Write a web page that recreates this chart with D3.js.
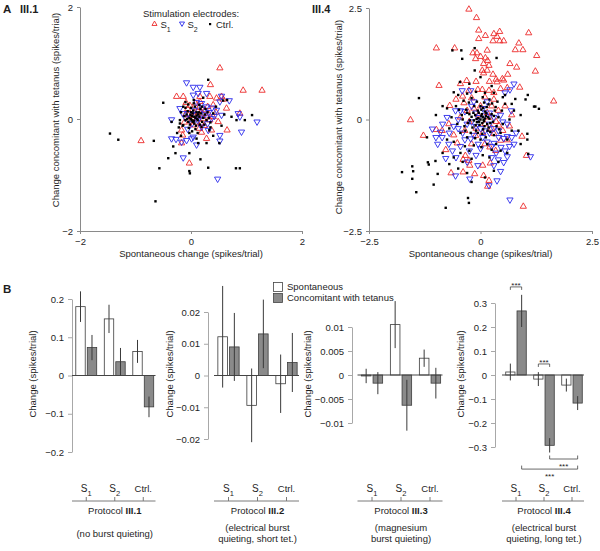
<!DOCTYPE html>
<html><head><meta charset="utf-8">
<script src="https://cdn.jsdelivr.net/npm/d3@7"></script>
<style>body{margin:0;background:#fff}svg{display:block;font-family:"Liberation Sans",Arial,Helvetica,sans-serif}</style>
</head><body><svg id="c" width="600" height="551"></svg>
<script>
// ---------------- DATA ----------------
// Panel A, protocol III.1 : [spontaneous change, change concomitant with tetanus]
const a1S1 = [[0.52,0.91],[0.94,0.51],[1.28,0.51],[0.35,0.61],[-0.26,0.40],[-0.14,0.40],[0.16,0.40],[0.34,0.40],[0.46,0.37],[0.55,0.40],[0.58,0.35],[0.16,0.31],[0.31,0.10],[0.64,0.19],[0.49,-0.05],[0.88,0.10],[0.65,-0.20],[0.37,-0.20],[0.28,-0.35],[0.19,-0.24],[-0.17,-0.43],[-0.03,-0.79],[-0.90,-0.39],[-0.09,0.29],[-0.05,0.07],[0.25,0.16],[0.40,0.04],[0.04,-0.11],[-0.17,-0.20],[-0.15,-0.29],[0.15,-0.17],[0.05,0.12],[0.12,0.05],[0.20,0.10],[0.22,0.0],[-0.06,0.18],[0.0,-0.04],[0.10,-0.06],[0.28,0.05],[0.34,-0.02],[0.14,0.20],[-0.10,0.08],[0.08,0.28],[0.45,0.12],[0.02,0.02],[0.18,-0.08],[0.30,0.22],[-0.12,-0.06],[0.24,-0.12],[0.06,0.06],[0.40,0.25],[-0.02,0.24],[0.12,0.14]];
const a1S2 = [[-0.08,0.65],[0.04,0.57],[0.16,0.57],[0.28,0.46],[0.04,0.43],[0.13,0.46],[0.55,0.41],[0.52,0.31],[0.69,0.33],[0.28,0.22],[0.46,0.16],[0.55,0.07],[0.85,0.10],[0.88,0.04],[1.19,-0.05],[0.91,-0.23],[0.52,-0.29],[0.52,-0.39],[0.31,-0.20],[0.19,-0.14],[0.04,-0.32],[0.10,-0.46],[0.01,-0.35],[-0.08,-0.38],[-0.17,-0.41],[-0.27,-0.36],[-0.35,-0.35],[-0.35,-0.01],[-0.14,-0.69],[0.48,-1.07],[-0.20,0.19],[0.19,0.28],[0.37,0.01],[0.08,0.08],[0.15,0.02],[-0.04,0.10],[0.25,0.08],[0.32,0.12],[0.02,-0.08],[0.12,-0.02],[-0.10,0.02],[0.20,0.18],[0.42,0.05],[0.06,0.16],[-0.15,0.10],[0.30,-0.08],[0.10,0.30],[-0.06,-0.18],[0.38,0.20]];
const a1Ctrl = [[-1.46,-0.26],[-1.31,-0.37],[-0.67,-0.39],[-0.50,0.29],[-0.64,-1.47],[-0.41,-0.70],[-0.57,-0.88],[-0.28,-0.61],[-0.03,-0.93],[-0.02,-0.97],[0.17,-0.72],[0.31,-0.87],[0.81,-0.88],[0.88,-0.88],[1.10,0.07],[0.97,-0.02],[0.82,-0.02],[0.73,0.04],[0.31,0.70],[0.58,0.33],[0.65,0.34],[-0.32,-0.49],[0.13,-0.43],[0.28,-0.43],[0.51,-0.43],[-0.03,-0.61],[-0.20,-0.08],[-0.14,-0.11],[0.05,0.34],[-0.10,0.30],[0.45,0.22],[0.60,0.08],[0.40,-0.30],[-0.25,-0.25],[-0.35,-0.05],[0.22,0.38],[0.10,-0.35],[-0.18,-0.30],[0.35,-0.15],[0.55,-0.12],[0.0,0.0],[0.02,0.05],[-0.03,0.02],[0.05,-0.03],[0.08,0.02],[0.1,0.06],[-0.05,-0.05],[0.12,-0.02],[0.03,0.1],[-0.08,0.08],[0.15,0.04],[0.06,-0.08],[-0.02,-0.1],[0.18,0.1],[0.2,-0.05],[-0.1,-0.02],[0.04,0.15],[0.09,-0.12],[0.14,0.12],[-0.06,0.14],[0.22,0.02],[0.25,0.08],[-0.12,0.05],[0.0,0.2],[0.16,-0.1],[0.28,-0.02],[-0.04,-0.16],[0.07,0.22],[0.11,0.0],[0.01,-0.02],[-0.01,0.07],[0.06,0.04],[0.13,0.08],[0.03,-0.05],[-0.07,0.0],[0.19,-0.14],[0.3,0.12],[0.24,-0.1],[-0.15,-0.12],[0.08,-0.18],[-0.18,0.12],[0.32,0.02],[0.17,0.18],[-0.1,0.2],[0.35,-0.06],[0.05,0.28],[-0.2,-0.02],[0.26,0.18],[0.12,-0.25],[-0.05,0.26],[0.4,0.1],[0.15,0.25],[-0.22,-0.15],[0.02,-0.22],[0.1,0.12],[-0.03,-0.25],[0.2,0.22],[0.33,-0.2],[-0.14,0.22],[0.0,0.12]];

// Panel A, protocol III.4
const a4S1 = [[-0.26,2.47],[-0.09,2.28],[-0.04,2.00],[0.11,1.88],[-0.04,1.81],[0.30,1.92],[0.43,1.97],[0.37,1.86],[0.28,1.76],[0.43,1.76],[0.52,1.76],[1.08,1.94],[0.86,1.71],[0.78,1.56],[0.95,1.56],[-0.99,1.60],[-0.58,1.60],[-0.17,1.49],[-0.08,1.49],[0.15,1.55],[-0.11,1.36],[0.00,1.41],[0.11,1.38],[0.16,1.32],[0.19,1.21],[0.07,1.25],[0.04,1.10],[0.07,1.04],[0.28,1.01],[0.15,1.10],[1.26,1.43],[1.23,1.08],[0.66,1.25],[0.81,1.17],[0.61,1.01],[0.49,0.91],[0.52,0.88],[0.37,0.84],[-0.31,0.87],[-0.93,0.76],[0.88,0.72],[1.64,0.41],[-0.45,0.80],[0.04,0.67],[0.19,0.65],[0.45,0.69],[0.60,0.71],[-0.06,0.67],[-0.26,0.65],[-1.57,-0.01],[-1.28,-0.36],[-0.99,-0.23],[-0.78,-0.68],[-0.69,0.31],[-0.37,0.37],[0.93,-0.38],[1.03,-0.81],[0.96,-1.95],[-0.66,-1.20],[-0.39,-1.18],[-0.24,-1.03],[-0.39,-0.90],[-0.34,-0.81],[0.05,-1.03],[-0.13,-1.22],[0.07,-1.26],[0.19,-1.37],[0.16,-1.50],[0.22,-0.98],[0.21,-0.62],[0.34,-0.70],[0.45,-0.47],[0.60,-0.46],[0.30,-0.32],[0.41,-0.13],[-0.86,-0.25],[-0.71,-0.10],[-0.52,-0.53],[-0.26,-0.92],[-0.11,-0.36],[-0.40,0.52],[-0.20,0.48],[0.10,0.50],[0.30,0.45],[0.25,0.30],[-0.30,0.20],[-0.15,0.25],[0.40,0.20],[0.55,0.30],[0.20,0.05],[-0.05,0.10],[0.10,-0.10],[-0.25,-0.05],[-0.45,0.05],[0.35,-0.05],[0.15,0.15],[-0.10,-0.20],[0.05,-0.30],[-0.35,-0.25],[0.25,-0.20],[-0.60,-0.35],[0.50,-0.25],[0.00,0.30],[0.30,0.60],[-0.55,0.45],[0.70,0.10],[0.65,-0.15],[-0.20,-0.55],[0.10,-0.55],[0.35,0.90],[0.20,0.85],[-0.10,0.85]];
const a4S2 = [[-1.08,-0.21],[-0.90,-0.28],[-0.86,-0.40],[-0.96,-0.55],[-0.71,-0.55],[-0.63,-0.70],[-0.78,-0.87],[-0.56,-1.26],[-0.24,-1.33],[-0.06,-1.03],[0.19,-1.48],[0.37,-1.37],[0.45,-1.16],[0.30,-1.03],[0.52,-0.96],[0.60,-0.83],[1.12,-0.83],[0.66,-1.80],[0.30,-0.53],[0.41,-0.40],[0.60,-0.38],[-0.56,0.20],[-0.45,0.20],[-0.35,0.18],[-0.22,-0.43],[0.75,0.80],[0.66,0.67],[0.55,0.60],[-0.41,0.65],[-0.22,0.65],[0.69,0.20],[0.52,-0.42],[0.70,-0.40],[0.75,-0.55],[0.46,-0.62],[0.55,-0.70],[-0.30,-0.10],[-0.20,-0.05],[-0.10,-0.15],[0.00,-0.20],[0.10,-0.25],[0.20,-0.30],[0.30,-0.20],[0.40,-0.25],[-0.40,-0.30],[-0.50,-0.20],[-0.60,-0.15],[-0.35,-0.45],[-0.15,-0.35],[0.05,-0.40],[0.15,-0.50],[0.25,-0.60],[-0.05,-0.55],[-0.25,-0.70],[0.35,-0.75],[-0.45,-0.60],[0.10,0.10],[0.20,0.15],[-0.05,0.05],[0.30,0.05],[-0.20,0.30],[0.05,0.25],[0.45,0.10],[-0.50,0.00],[-0.70,-0.30],[-0.85,-0.10],[0.60,-0.10],[0.50,-0.05],[-0.15,0.40],[0.15,0.40],[0.25,-0.85],[-0.10,-0.80],[-0.30,-0.95],[0.40,-0.90],[0.65,-0.60],[-0.55,-0.85],[0.00,-0.65],[0.80,-0.30],[-1.00,-0.40],[-0.75,0.05],[0.20,-0.10],[-0.10,0.15]];
const a4Ctrl = [[-1.76,-1.18],[-1.53,-1.05],[-1.51,-1.16],[-1.53,-1.33],[-1.44,-1.63],[-1.05,-1.46],[-1.16,-1.01],[-1.18,-0.96],[-0.78,-1.98],[-0.28,-1.76],[-0.26,-1.87],[-0.96,-1.22],[-1.01,-0.93],[1.23,0.29],[1.31,0.24],[1.05,-0.32],[1.05,-0.45],[1.07,-0.77],[-0.63,1.55],[-0.43,1.55],[-0.13,1.60],[-0.41,1.36],[-0.13,1.10],[0.36,1.38],[-1.38,0.48],[-0.60,0.61],[-0.46,0.84],[1.01,0.45],[1.06,0.55],[1.20,0.29],[0.78,0.46],[-1.20,-0.40],[-0.85,-0.75],[-0.70,-1.00],[-0.50,-1.10],[-0.30,-1.20],[0.10,-1.30],[0.30,-1.15],[-0.20,-1.40],[0.90,-0.55],[0.85,-0.25],[0.90,0.10],[0.70,0.35],[-0.85,0.30],[-1.00,0.10],[-0.75,-0.45],[0.55,0.55],[0.25,0.75],[-0.25,0.80],[0.00,0.95],[0.00,0.00],[0.05,0.05],[-0.05,0.03],[0.08,-0.04],[-0.08,-0.06],[0.12,0.08],[-0.12,0.10],[0.03,0.12],[-0.02,-0.12],[0.15,-0.10],[-0.15,-0.02],[0.10,0.18],[-0.06,0.20],[0.20,0.02],[-0.20,0.06],[0.02,0.22],[0.18,-0.18],[-0.18,-0.18],[0.25,0.12],[-0.25,0.12],[0.06,-0.22],[-0.10,-0.25],[0.28,-0.05],[-0.28,-0.08],[0.00,0.30],[0.14,0.28],[-0.14,0.30],[0.32,0.20],[-0.32,0.22],[0.22,-0.28],[-0.22,-0.30],[0.04,-0.32],[0.36,-0.15],[-0.36,-0.15],[0.40,0.05],[-0.40,0.00],[0.08,0.38],[-0.08,0.40],[0.26,0.36],[-0.26,0.38],[0.12,-0.40],[-0.12,-0.42],[0.30,-0.35],[-0.30,-0.40],[0.45,-0.30],[-0.45,-0.30],[0.48,0.20],[-0.48,0.22],[0.00,-0.45],[0.20,0.45],[-0.20,0.48],[0.38,0.40],[-0.38,0.42],[0.50,-0.10],[-0.52,-0.10],[0.15,-0.55],[-0.15,-0.58],[0.35,-0.55],[-0.35,-0.60],[0.55,0.35],[-0.55,0.30],[0.05,0.50],[0.60,-0.45],[-0.60,-0.50],[0.02,-0.62],[0.25,-0.68],[-0.25,-0.70],[0.45,-0.70],[-0.45,-0.75],[0.65,0.00],[-0.65,0.05],[0.10,0.60],[-0.10,0.62],[0.30,0.60],[-0.30,0.58],[0.70,-0.25],[-0.70,-0.20],[0.05,-0.80],[0.20,-0.85],[-0.20,-0.88],[0.50,0.50],[-0.50,0.55],[0.75,0.20],[-0.75,0.25],[0.60,-0.75],[-0.60,-0.85],[0.40,-0.95],[-0.40,-0.95],[0.02,0.08],[0.07,-0.01],[-0.03,-0.05],[0.10,0.02],[-0.09,0.01],[0.04,-0.08],[0.13,0.14],[-0.04,0.15],[0.17,0.05],[-0.16,0.15],[0.09,-0.15],[-0.11,-0.13],[0.22,-0.08],[-0.24,-0.02],[0.06,0.26],[0.30,0.08],[-0.30,0.15],[0.16,-0.25],[-0.06,-0.30],[0.34,0.28],[-0.34,-0.25],[0.42,-0.22],[-0.42,0.10],[0.18,0.34]];

const a1Ticks = [-2, 0, 2];
const a1TickLabels = ['\u22122', '0', '2'];
const a4Ticks = [-2.5, 0, 2.5];
const a4TickLabels = ['\u22122.5', '0', '2.5'];

// Panel B : categories and values (spikes/trial)
const CATS = ['S1', 'S2', 'Ctrl.'];
const SERIES = ['Spontaneous', 'Concomitant with tetanus'];
const b1Spont = [0.18, 0.148, 0.063],   b1SpontErr = [0.04, 0.037, 0.03];
const b1Conc  = [0.073, 0.036, -0.082], b1ConcErr  = [0.033, 0.036, 0.027];
const b2Spont = [0.0122, -0.0094, -0.0026], b2SpontErr = [0.016, 0.0116, 0.0092];
const b2Conc  = [0.009, 0.0131, 0.0041],    b2ConcErr  = [0.0107, 0.0108, 0.0093];
const b3Spont = [-0.0002, 0.0105, 0.0035],  b3SpontErr = [0.0015, 0.0049, 0.0018];
const b3Conc  = [-0.0017, -0.0063, -0.0017], b3ConcErr = [0.0023, 0.0053, 0.0032];
const b4Spont = [0.0125, -0.017, -0.042], b4SpontErr = [0.035, 0.029, 0.027];
const b4Conc  = [0.267, -0.293, -0.117],  b4ConcErr  = [0.067, 0.03, 0.029];

const b1Ticks = [0.2, 0.1, 0, -0.1, -0.2];
const b1TickLabels = ['0.2', '0.1', '0', '\u22120.1', '\u22120.2'];
const b2Ticks = [0.02, 0.01, 0, -0.01, -0.02];
const b2TickLabels = ['0.02', '0.01', '0', '\u22120.01', '\u22120.02'];
const b3Ticks = [0.01, 0.005, 0, -0.005, -0.01];
const b3TickLabels = ['0.01', '0.005', '0', '\u22120.005', '\u22120.01'];
const b4Ticks = [0.3, 0.2, 0.1, 0, -0.1, -0.2, -0.3];
const b4TickLabels = ['0.3', '0.2', '0.1', '0', '\u22120.1', '\u22120.2', '\u22120.3'];

// significance brackets in III.4: [cat, series] -> [cat, series] at value level
const b4Sig = [
  {from: ['S1', 0], to: ['S1', 1], level: 0.367, side: 'top'},
  {from: ['S2', 0], to: ['S2', 1], level: 0.046, side: 'top'},
  {from: ['S2', 1], to: ['Ctrl.', 1], level: -0.35, side: 'bottom'},
  {from: ['S1', 1], to: ['Ctrl.', 1], level: -0.392, side: 'bottom'}
];

// ---------------- DRAW ----------------
const svg = d3.select('#c');
const FS = 9.5, TXT = '#1e1e1e';
const RED = '#ec2a2a', BLUE = '#2a2aec';
const AX = '#8a8a8a';

function styleAxis(sel, col) {
  sel.attr('font-family', null).attr('font-size', null);
  sel.select('.domain').attr('stroke', col).attr('stroke-width', 1);
  sel.selectAll('.tick line').attr('stroke', col);
  sel.selectAll('.tick text').attr('fill', TXT).style('font-size', FS + 'px')
     .style('font-family', '"Liberation Sans",Arial,sans-serif');
}

function txt(x, y, s, opts = {}) {
  const t = svg.append('text').attr('x', x).attr('y', y).attr('fill', TXT)
    .style('font-size', (opts.size || FS) + 'px')
    .attr('text-anchor', opts.anchor || 'start');
  if (opts.bold) t.attr('font-weight', 'bold');
  if (opts.rot) t.attr('transform', `rotate(-90,${x},${y})`);
  t.text(s);
  return t;
}

const upSym = d3.symbol().type(d3.symbolTriangle).size(17);

function scatter(cfg) {
  const x = d3.scaleLinear().domain(cfg.dom).range(cfg.xr);
  const y = d3.scaleLinear().domain(cfg.dom).range(cfg.yr);
  const g = svg.append('g');
  const gx = g.append('g').attr('transform', `translate(0,${cfg.yr[0]})`)
    .call(d3.axisBottom(x).tickValues(cfg.ticks).tickFormat((d, i) => cfg.labels[i]).tickSize(3).tickPadding(4).tickSizeOuter(0));
  styleAxis(gx, AX);
  const gy = g.append('g').attr('transform', `translate(${cfg.xr[0]},0)`)
    .call(d3.axisLeft(y).tickValues(cfg.ticks).tickFormat((d, i) => cfg.labels[i]).tickSize(3).tickPadding(4).tickSizeOuter(0));
  styleAxis(gy, AX);

  g.append('g').selectAll('path').data(cfg.s1).join('path')
    .attr('d', upSym).attr('transform', d => `translate(${x(d[0])},${y(d[1])})`)
    .attr('fill', 'none').attr('stroke', RED).attr('stroke-width', 0.9);
  g.append('g').selectAll('path').data(cfg.s2).join('path')
    .attr('d', upSym).attr('transform', d => `translate(${x(d[0])},${y(d[1])}) rotate(180)`)
    .attr('fill', 'none').attr('stroke', BLUE).attr('stroke-width', 0.9);
  g.append('g').selectAll('rect').data(cfg.ctrl).join('rect')
    .attr('x', d => x(d[0]) - 1.2).attr('y', d => y(d[1]) - 1.2)
    .attr('width', 2.4).attr('height', 2.4).attr('fill', '#000');

  txt(cfg.titleX, cfg.titleY, 'Change concomitant with tetanus (spikes/trial)', {anchor: 'middle', rot: true});
  txt((cfg.xr[0] + cfg.xr[1]) / 2, 257, 'Spontaneous change (spikes/trial)', {anchor: 'middle'});
}

scatter({dom: [-2, 2], xr: [80, 302], yr: [231, 7], ticks: a1Ticks, labels: a1TickLabels,
  s1: a1S1, s2: a1S2, ctrl: a1Ctrl, titleX: 59, titleY: 110});
scatter({dom: [-2.5, 2.5], xr: [369, 592], yr: [231, 8], ticks: a4Ticks, labels: a4TickLabels,
  s1: a4S1, s2: a4S2, ctrl: a4Ctrl, titleX: 342, titleY: 117});

// panel labels
txt(3, 13, 'A', {bold: true, size: 11.5});
txt(20, 13, 'III.1', {bold: true, size: 11});
txt(312, 13, 'III.4', {bold: true, size: 11});
txt(3, 293, 'B', {bold: true, size: 11.5});

// legend A
txt(143, 17, 'Stimulation electrodes:');
const legSym = d3.symbol().type(d3.symbolTriangle).size(11);
svg.append('path').attr('d', legSym).attr('transform', 'translate(154.5,24)').attr('fill', 'none').attr('stroke', RED).attr('stroke-width', 0.9);
svg.append('path').attr('d', legSym).attr('transform', 'translate(182,23.5) rotate(180)').attr('fill', 'none').attr('stroke', BLUE).attr('stroke-width', 0.9);
svg.append('rect').attr('x', 209).attr('y', 23).attr('width', 2.2).attr('height', 2.2).attr('fill', '#000');
function subLabel(x, y, main, sub, anchor, size, subSize) {
  const t = svg.append('text').attr('x', x).attr('y', y).attr('fill', TXT)
    .style('font-size', size + 'px').attr('text-anchor', anchor);
  t.append('tspan').text(main);
  if (sub) t.append('tspan').attr('dy', 3.5).style('font-size', subSize + 'px').text(sub);
  return t;
}
subLabel(160.5, 28, 'S', '1', 'start', 9.5, 7);
subLabel(187.5, 28, 'S', '2', 'start', 9.5, 7);
txt(216, 28, 'Ctrl.');

// legend B
svg.append('rect').attr('x', 273.5).attr('y', 282.5).attr('width', 9).attr('height', 9).attr('fill', '#fff').attr('stroke', '#444').attr('stroke-width', 0.8);
svg.append('rect').attr('x', 273.5).attr('y', 293.5).attr('width', 9).attr('height', 9).attr('fill', '#8a8a8a').attr('stroke', '#444').attr('stroke-width', 0.8);
txt(287, 290, SERIES[0]);
txt(287, 301, SERIES[1]);

function bars(cfg) {
  const y = d3.scaleLinear().domain(cfg.dom).range(cfg.yr);
  const xg = d3.scaleBand().domain(CATS).range(cfg.xr);
  const xs = d3.scaleBand().domain([0, 1]).range([0, xg.bandwidth()]).paddingInner(0.18).paddingOuter(0.33);
  const g = svg.append('g');
  const gy = g.append('g').attr('transform', `translate(${cfg.axisX},0)`)
    .call(d3.axisLeft(y).tickValues(cfg.ticks).tickFormat((d, i) => cfg.labels[i]).tickSize(4).tickPadding(4).tickSizeOuter(0));
  styleAxis(gy, '#a8a8a8');

  const vals = [cfg.spont, cfg.conc], errs = [cfg.spontErr, cfg.concErr];
  const rows = [];
  CATS.forEach((c, ci) => [0, 1].forEach(s => rows.push({c, s, v: vals[s][ci], e: errs[s][ci]})));
  const cx = d => xg(d.c) + xs(d.s) + xs.bandwidth() / 2;

  g.append('g').selectAll('rect').data(rows).join('rect')
    .attr('x', d => xg(d.c) + xs(d.s)).attr('width', xs.bandwidth())
    .attr('y', d => Math.min(y(d.v), y(0))).attr('height', d => Math.abs(y(d.v) - y(0)))
    .attr('fill', d => d.s ? '#8a8a8a' : '#fff').attr('stroke', '#3c3c3c').attr('stroke-width', 0.8);
  g.append('line').attr('x1', cfg.xr[0]).attr('x2', cfg.xr[1] - 2).attr('y1', y(0)).attr('y2', y(0))
    .attr('stroke', '#444').attr('stroke-width', 1);
  g.append('g').selectAll('line').data(rows).join('line')
    .attr('x1', cx).attr('x2', cx).attr('y1', d => y(d.v + d.e)).attr('y2', d => y(d.v - d.e))
    .attr('stroke', '#3a3a3a').attr('stroke-width', 1);

  // category axis
  const gc = g.append('g').attr('transform', 'translate(0,501)')
    .call(d3.axisTop(xg).tickFormat('').tickSize(4).tickSizeOuter(0));
  gc.select('.domain').attr('stroke', '#7a7a7a').attr('d', `M${cfg.xr[0]},0H${cfg.xr[1] - 2}`);
  gc.selectAll('.tick line').attr('stroke', '#7a7a7a');
  CATS.forEach(c => {
    const xc = xg(c) + xg.bandwidth() / 2;
    if (c.startsWith('S')) subLabel(xc, 492, 'S', c.slice(1), 'middle', 10, 7.5);
    else txt(xc, 492, c, {anchor: 'middle', size: 9.5});
  });
  const mid = xg('S2') + xg.bandwidth() / 2;
  const pt = svg.append('text').attr('x', mid).attr('y', 514).attr('text-anchor', 'middle').attr('fill', TXT).style('font-size', FS + 'px');
  pt.append('tspan').text('Protocol ');
  pt.append('tspan').attr('font-weight', 'bold').text(cfg.protocol);
  if (cfg.sub.length === 1) txt(mid, 537, cfg.sub[0], {anchor: 'middle'});
  else { txt(mid, 531, cfg.sub[0], {anchor: 'middle'}); txt(mid, 542, cfg.sub[1], {anchor: 'middle'}); }

  txt(cfg.titleX, 374, 'Change (spikes/trial)', {anchor: 'middle', rot: true});

  if (cfg.sig) {
    const bx = ([c, s]) => xg(c) + xs(s) + xs.bandwidth() / 2;
    cfg.sig.forEach(b => {
      const x1 = bx(b.from), x2 = bx(b.to), yy = y(b.level);
      const leg = b.side === 'top' ? 3 : -3.5;
      g.append('path').attr('d', `M${x1},${yy + leg}V${yy}H${x2}V${yy + leg}`)
        .attr('fill', 'none').attr('stroke', '#444').attr('stroke-width', 0.8);
      txt((x1 + x2) / 2, b.side === 'top' ? yy + 1.5 : yy + 9.5, '***', {anchor: 'middle', size: 8});
    });
  }
}

bars({dom: [-0.2, 0.2], yr: [452, 299], xr: [72, 157.5], axisX: 72, ticks: b1Ticks, labels: b1TickLabels,
  spont: b1Spont, spontErr: b1SpontErr, conc: b1Conc, concErr: b1ConcErr, titleX: 36,
  protocol: 'III.1', sub: ['(no burst quieting)']});
bars({dom: [-0.02, 0.02], yr: [439, 312], xr: [214, 301], axisX: 208, ticks: b2Ticks, labels: b2TickLabels,
  spont: b2Spont, spontErr: b2SpontErr, conc: b2Conc, concErr: b2ConcErr, titleX: 173,
  protocol: 'III.2', sub: ['(electrical burst', 'quieting, short tet.)']});
bars({dom: [-0.01, 0.01], yr: [423, 327], xr: [357.5, 444.5], axisX: 352, ticks: b3Ticks, labels: b3TickLabels,
  spont: b3Spont, spontErr: b3SpontErr, conc: b3Conc, concErr: b3ConcErr, titleX: 311,
  protocol: 'III.3', sub: ['(magnesium', 'burst quieting)']});
bars({dom: [-0.3, 0.3], yr: [447, 303], xr: [502, 586], axisX: 495, ticks: b4Ticks, labels: b4TickLabels,
  spont: b4Spont, spontErr: b4SpontErr, conc: b4Conc, concErr: b4ConcErr, titleX: 464,
  protocol: 'III.4', sub: ['(electrical burst', 'quieting, long tet.)'], sig: b4Sig});
</script></body></html>
